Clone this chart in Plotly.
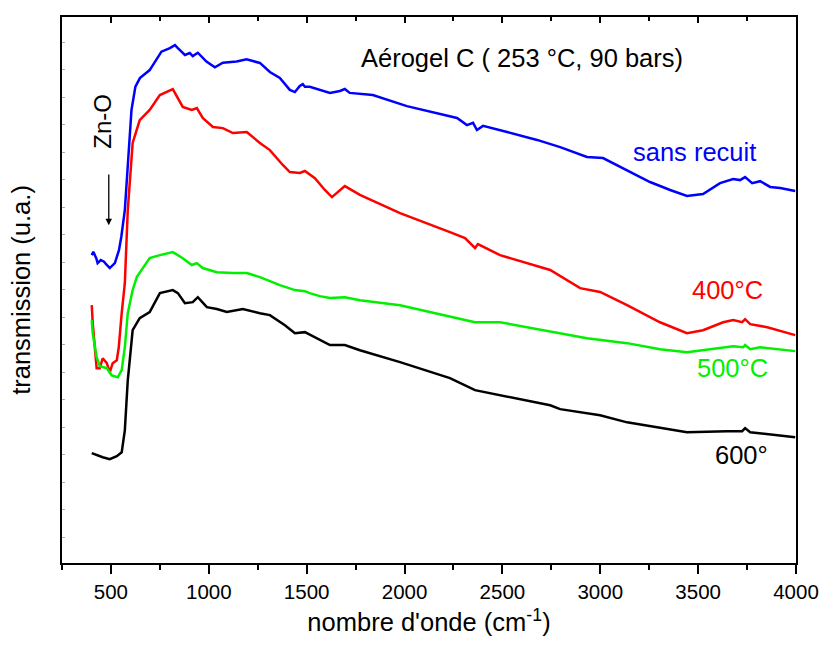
import plotly.graph_objects as go

# données (nombre d'onde en cm-1, transmission en u.a.)
wn_sans = [402, 410, 425, 432, 448, 465, 475, 494, 520, 541, 553, 571, 588, 605, 625, 648, 698, 732,
           758, 801, 827, 842, 878, 903, 918, 944, 988, 1031, 1072, 1142, 1193, 1261, 1312, 1363, 1414,
           1440, 1465, 1480, 1491, 1516, 1567, 1619, 1670, 1695, 1720, 1838, 2012, 2181, 2268, 2319,
           2350, 2370, 2401, 2524, 2677, 2795, 2932, 3014, 3137, 3254, 3357, 3443, 3525, 3612, 3679,
           3714, 3740, 3776, 3817, 3868, 3919, 3970, 3996]
t_sans = [11.26, 11.38, 11.15, 10.97, 11.08, 11.02, 10.93, 10.79, 10.97, 11.44, 11.93, 12.90, 14.72,
          16.54, 17.39, 17.70, 17.99, 18.36, 18.66, 18.79, 18.90, 18.79, 18.54, 18.61, 18.50, 18.62,
          18.30, 18.09, 18.26, 18.30, 18.38, 18.25, 17.92, 17.70, 17.27, 17.19, 17.41, 17.48, 17.38,
          17.38, 17.27, 17.16, 17.23, 17.30, 17.16, 17.08, 16.68, 16.39, 16.25, 15.99, 16.07, 15.81,
          15.96, 15.74, 15.45, 15.19, 14.83, 14.79, 14.35, 13.92, 13.63, 13.41, 13.48, 13.88, 14.03,
          13.99, 14.10, 13.88, 13.95, 13.74, 13.70, 13.63, 13.59]

wn_400 = [402, 407, 427, 443, 458, 479, 494, 509, 530, 540, 555, 571, 586, 611, 647, 698, 750, 816,
          867, 913, 939, 969, 1021, 1072, 1123, 1194, 1261, 1312, 1378, 1414, 1465, 1491, 1542, 1593,
          1629, 1670, 1695, 1772, 1977, 2232, 2309, 2360, 2375, 2488, 2744, 2897, 2999, 3137, 3305,
          3443, 3525, 3628, 3679, 3725, 3740, 3766, 3853, 3996]
t_400 = [9.44, 8.79, 7.15, 7.15, 7.51, 7.33, 7.00, 7.33, 7.44, 7.91, 9.15, 10.24, 12.90, 15.34, 16.17,
         16.54, 17.08, 17.30, 16.65, 16.54, 16.61, 16.25, 15.92, 15.88, 15.70, 15.74, 15.34, 15.08,
         14.54, 14.28, 14.25, 14.32, 14.06, 13.63, 13.37, 13.63, 13.77, 13.45, 12.79, 12.10, 11.88,
         11.52, 11.66, 11.26, 10.72, 10.06, 9.92, 9.44, 8.82, 8.42, 8.53, 8.82, 8.90, 8.82, 8.93, 8.75,
         8.64, 8.35]

wn_500 = [402, 407, 427, 443, 479, 504, 535, 555, 571, 586, 611, 632, 698, 750, 816, 867, 913, 939,
          969, 1041, 1123, 1194, 1261, 1363, 1440, 1491, 1516, 1567, 1619, 1695, 1772, 1977, 2309,
          2360, 2488, 2795, 2932, 3137, 3305, 3443, 3561, 3679, 3730, 3740, 3766, 3817, 3996]
t_500 = [8.90, 8.42, 7.55, 7.22, 7.15, 6.89, 6.82, 7.08, 7.91, 9.15, 9.99, 10.46, 11.15, 11.26, 11.37,
         11.15, 10.90, 10.97, 10.79, 10.64, 10.61, 10.61, 10.46, 10.17, 9.99, 9.95, 9.88, 9.77, 9.70,
         9.73, 9.62, 9.44, 8.90, 8.82, 8.82, 8.42, 8.24, 8.06, 7.84, 7.73, 7.84, 7.95, 7.91, 7.99,
         7.84, 7.91, 7.77]

wn_600 = [402, 427, 458, 494, 530, 555, 571, 586, 611, 647, 698, 750, 816, 842, 878, 918, 944, 990,
          1041, 1092, 1174, 1261, 1312, 1389, 1440, 1491, 1567, 1619, 1695, 1772, 1977, 2232, 2360,
          2744, 2795, 2999, 3137, 3305, 3443, 3648, 3725, 3740, 3766, 3996]
t_600 = [4.06, 3.98, 3.91, 3.84, 3.95, 4.09, 4.89, 6.71, 8.53, 8.97, 9.19, 9.88, 9.99, 9.88, 9.51,
         9.55, 9.73, 9.37, 9.30, 9.19, 9.30, 9.15, 9.08, 8.71, 8.42, 8.46, 8.17, 7.99, 7.99, 7.80,
         7.37, 6.79, 6.35, 5.80, 5.66, 5.44, 5.18, 4.97, 4.82, 4.86, 4.86, 4.97, 4.82, 4.64]

ticks_x = [500, 1000, 1500, 2000, 2500, 3000, 3500, 4000]

police = "Arial, Liberation Sans, sans-serif"

fig = go.Figure()
fig.add_trace(go.Scatter(x=wn_sans, y=t_sans, mode="lines", line=dict(color="#0000FF", width=2.5)))
fig.add_trace(go.Scatter(x=wn_400, y=t_400, mode="lines", line=dict(color="#FF0000", width=2.5)))
fig.add_trace(go.Scatter(x=wn_500, y=t_500, mode="lines", line=dict(color="#00F000", width=2.5)))
fig.add_trace(go.Scatter(x=wn_600, y=t_600, mode="lines", line=dict(color="#000000", width=2.5)))
# trace vide pour l'axe du haut (ticks vers l'intérieur)
fig.add_trace(go.Scatter(x=[], y=[], xaxis="x2", hoverinfo="skip"))

# textes
fig.add_annotation(x=2600, y=18.43, text="Aérogel C ( 253 °C, 90 bars)", showarrow=False,
                   font=dict(size=25.5, color="black"))
fig.add_annotation(x=3480, y=15.01, text="sans recuit", showarrow=False, font=dict(size=25.5, color="#0000FF"))
fig.add_annotation(x=3648, y=9.99, text="400°C", showarrow=False, font=dict(size=25.5, color="#FF0000"))
fig.add_annotation(x=3674, y=7.15, text="500°C", showarrow=False, font=dict(size=25.5, color="#00F000"))
fig.add_annotation(x=3720, y=3.98, text="600°", showarrow=False, font=dict(size=25.5, color="black"))
fig.add_annotation(x=458, y=16.14, text="Zn-O", textangle=-90, showarrow=False,
                   font=dict(size=24, color="black"))
# flèche Zn-O
fig.add_annotation(x=489, y=12.35, ax=489, ay=14.25, axref="x", ayref="y", text="",
                   showarrow=True, arrowhead=2, arrowsize=1, arrowwidth=1.3, arrowcolor="black")

fig.update_layout(
    width=819, height=646,
    margin=dict(l=62, r=23, t=17, b=83),
    plot_bgcolor="white", paper_bgcolor="white",
    showlegend=False,
    font=dict(family=police, color="black"),
    xaxis=dict(range=[250, 4000], tickmode="array", tickvals=ticks_x, ticktext=[str(v) for v in ticks_x],
               ticks="outside", ticklen=9, tickwidth=1.5, ticklabeloverflow="allow",
               tickcolor="black", showline=True, linewidth=2, linecolor="black", mirror=True,
               showgrid=False, zeroline=False, tickfont=dict(size=20.5), automargin=False,
               minor=dict(tick0=250, dtick=250, ticks="outside", ticklen=5, tickwidth=1.5, tickcolor="black"),
               title=dict(text="nombre d'onde (cm<sup>-1</sup>)", font=dict(size=25.5), standoff=12)),
    xaxis2=dict(range=[250, 4000], overlaying="x", side="top", tick0=0, dtick=500, ticks="inside",
                ticklen=6, tickwidth=1.5, tickcolor="black", showticklabels=False, showgrid=False,
                zeroline=False, showline=False, automargin=False,
                minor=dict(dtick=250, ticks="inside", ticklen=4, tickwidth=1.5, tickcolor="black")),
    yaxis=dict(range=[0.065, 19.92], tick0=0, dtick=1, ticks="inside", ticklen=3, tickwidth=1,
               tickcolor="#aaaaaa", showticklabels=False, showline=True, linewidth=2, linecolor="black",
               mirror=True, showgrid=False, zeroline=False, automargin=False,
               title=dict(text="transmission (u.a.)", font=dict(size=25.5), standoff=22)),
)

# supprimer la marge par défaut de la page pour que la figure remplisse la fenêtre
fig.write_html("out.html", config={"displayModeBar": False},
               post_script="document.body.style.margin='0'; document.body.style.overflow='hidden';")
